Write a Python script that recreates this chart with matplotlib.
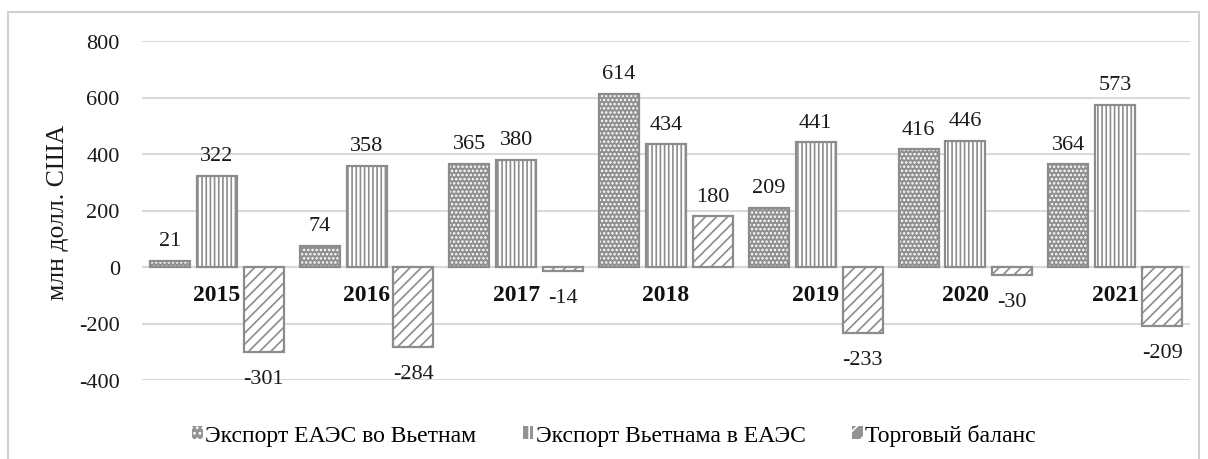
import matplotlib
matplotlib.use("Agg")
import matplotlib.pyplot as plt
from matplotlib.patches import Rectangle, Patch
import numpy as np

years = ["2015", "2016", "2017", "2018", "2019", "2020", "2021"]
eaeu_to_vietnam = [21, 74, 365, 614, 209, 416, 364]
vietnam_to_eaeu = [322, 358, 380, 434, 441, 446, 573]
trade_balance = [-301, -284, -14, 180, -233, -30, -209]

series_names = ["Экспорт ЕАЭС во Вьетнам", "Экспорт Вьетнама в ЕАЭС", "Торговый баланс"]
yticks = [-400, -200, 0, 200, 400, 600, 800]

plt.rcParams["font.family"] = ["Liberation Serif", "DejaVu Serif"]
plt.rcParams["hatch.linewidth"] = 1.2

EDGE = "#8c8c8c"
GRID = "#d9d9d9"
FS = 16

fig = plt.figure(figsize=(12.08, 4.6), dpi=100)
ax = fig.add_axes([142 / 1208, 79 / 460, 1048 / 1208, 339 / 460])

x = np.arange(len(years))
step = 0.313
width = 0.267
all_series = [eaeu_to_vietnam, vietnam_to_eaeu, trade_balance]

# (face colour, hatch colour, hatch) for each series
styles = [("#8f8f8f", "white", "...."),
          ("white", EDGE, "||||"),
          ("white", EDGE, "///")]

for k, (vals, (fc, hc, h)) in enumerate(zip(all_series, styles)):
    pos = x + (k - 1) * step
    ax.bar(pos, vals, width=width, facecolor=fc, edgecolor=hc,
           hatch=h, linewidth=0, zorder=3)
    ax.bar(pos, vals, width=width, fill=False, edgecolor=EDGE,
           linewidth=1.6, zorder=4)
    for p, v in zip(pos, vals):
        off = 14.5 if v >= 0 else -19
        ax.annotate(str(v), (p, v), xytext=(0, off), textcoords="offset points",
                    ha="center", va="center", fontsize=FS, color="#1a1a1a")

for i, yr in enumerate(years):
    ax.annotate(yr, (i, 0), xytext=(0, -19.5), textcoords="offset points",
                ha="center", va="center", fontsize=17, fontweight="bold",
                color="#111111")

ax.set_xlim(-0.5, len(years) - 0.5)
ax.set_ylim(-400, 800)
ax.set_yticks(yticks)
ax.set_yticklabels([str(t) for t in yticks], fontsize=FS, color="#1a1a1a")
ax.set_xticks([])
ax.tick_params(axis="y", length=0, pad=16)
ax.yaxis.grid(True, color=GRID, linewidth=1.5, zorder=0)
ax.set_axisbelow(True)
for s in ax.spines.values():
    s.set_visible(False)
ax.axhline(0, color=GRID, linewidth=1.5, zorder=2)

fig.text(58 / 1208, 1 - 212 / 460, "млн долл. США", rotation=90,
         ha="center", va="center", fontsize=18.5, color="#1a1a1a")

# small grey legend keys with a light pattern
key_hatches = ["...", "||", "//"]
handles = [Patch(facecolor="#939393", edgecolor="white", hatch=h, linewidth=0)
           for h in key_hatches]
fig.legend(handles, series_names, loc="center left",
           bbox_to_anchor=(192 / 1208, 24 / 460), ncol=3, frameon=False,
           fontsize=17, handlelength=0.45, handleheight=0.45, handletextpad=0.12,
           columnspacing=1.95, borderpad=0, borderaxespad=0)

fig.patches.append(Rectangle((8 / 1208, -0.05), 1191 / 1208, 1.05 - 13 / 460,
                             transform=fig.transFigure, fill=False,
                             edgecolor="#d0d0d0", linewidth=1.5))

fig.savefig("out.png", dpi=100)
